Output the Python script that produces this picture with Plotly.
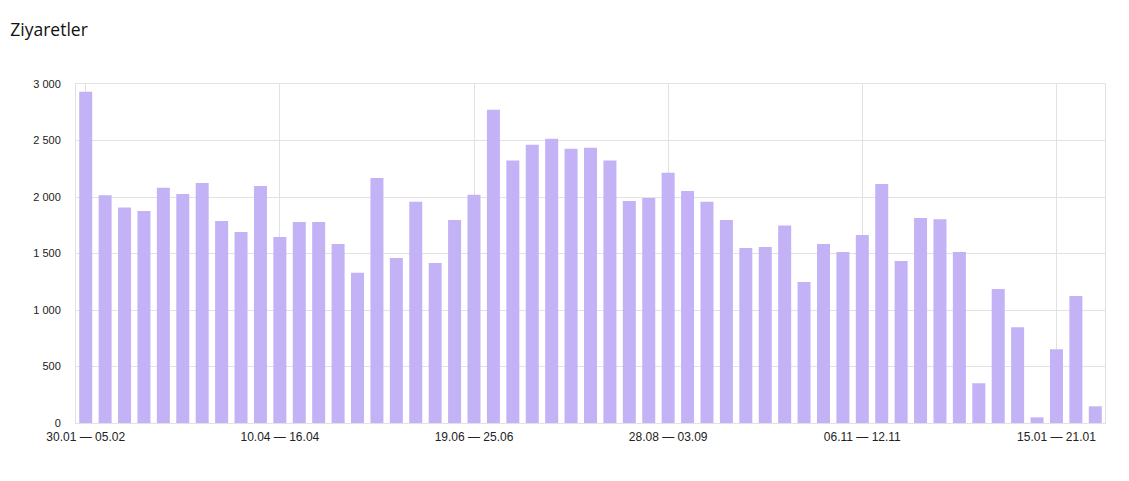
import pandas as pd
import plotly.graph_objects as go

# Haftalik ziyaretler, 30.01.2023 haftasindan itibaren
week_starts = pd.date_range("2023-01-30", periods=53, freq="7D")
week_labels = [f"{d:%d.%m} — {(d + pd.Timedelta(days=6)):%d.%m}" for d in week_starts]

visits = [
    2932, 2016, 1906, 1877, 2081, 2027, 2125, 1788, 1691, 2098,
    1646, 1779, 1779, 1584, 1330, 2169, 1460, 1957, 1416, 1797,
    2019, 2772, 2323, 2462, 2515, 2426, 2435, 2323, 1965, 1992,
    2214, 2054, 1957, 1797, 1549, 1558, 1747, 1247, 1584, 1513,
    1664, 2116, 1434, 1815, 1803, 1513, 352, 1185, 848, 50,
    653, 1123, 148,
]

tick_idx = [0, 10, 20, 30, 40, 50]
tick_text = [week_labels[i] for i in tick_idx]
y_ticks = [0, 500, 1000, 1500, 2000, 2500, 3000]

fig = go.Figure(go.Bar(
    x=list(range(len(visits))), y=visits,
    marker=dict(color="#c3b3f6", line=dict(width=0)),
    width=0.67, hovertext=week_labels, hoverinfo="text+y",
))

# sayfa gövdesi 8px kaydırıyor, kenar boşlukları buna göre
fig.update_layout(
    width=1129, height=481,
    paper_bgcolor="white", plot_bgcolor="white",
    margin=dict(l=68, r=32, t=76, b=66),
    font=dict(family="Arial, Liberation Sans, sans-serif", color="#222"),
    title=dict(text="Ziyaretler", x=0.002, xanchor="left", y=0.954, yanchor="middle",
               font=dict(size=17.5, color="#111", family="Open Sans, sans-serif")),
    separators=". ",
    showlegend=False,
)
fig.update_xaxes(
    range=[-0.5, len(visits) - 0.5],
    tickvals=tick_idx, ticktext=tick_text, tickfont=dict(size=12),
    showgrid=True, gridcolor="#e2e2e2", gridwidth=1,
    showline=True, linecolor="#e2e2e2", mirror=True, ticks="",
    ticklabelstandoff=3, zeroline=False,
)
fig.update_yaxes(
    range=[0, 3000], tickvals=y_ticks, tickformat=",d", tickfont=dict(size=11),
    showgrid=True, gridcolor="#e2e2e2", gridwidth=1,
    showline=True, linecolor="#e2e2e2", mirror=True, ticks="",
    ticklabelstandoff=12, zeroline=False,
)

fig.write_html("out.html")
